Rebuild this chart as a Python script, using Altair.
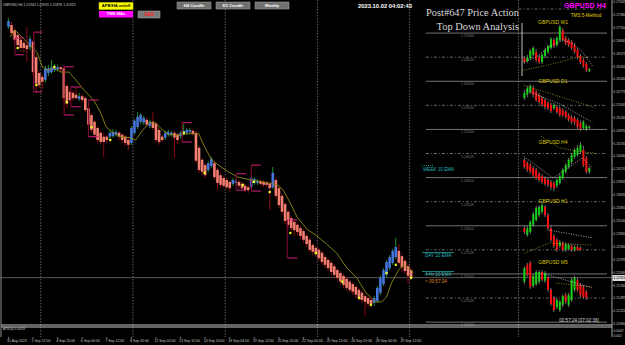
import altair as alt
import pandas as pd

# ---------------- main GBPUSD H4 candles (Heikin-Ashi bodies) ----------------
HA_OPEN = [1.2713,1.2717,1.2706,1.2696,1.2686,1.2680,1.2675,1.2671,1.2682,1.2650,
           1.2617,1.2609,1.2603,1.2617,1.2619,1.2623,1.2625,1.2629,1.2627,1.2590,
           1.2578,1.2576,1.2572,1.2563,1.2569,1.2565,1.2544,1.2530,1.2516,1.2503,
           1.2493,1.2485,1.2485,1.2485,1.2486,1.2489,1.2493,1.2489,1.2485,1.2478,
           1.2472,1.2493,1.2505,1.2516,1.2514,1.2520,1.2507,1.2516,1.2512,1.2499,
           1.2485,1.2483,1.2489,1.2489,1.2493,1.2489,1.2486,1.2491,1.2493,1.2495,
           1.2497,1.2493,1.2462,1.2437,1.2426,1.2416,1.2424,1.2430,1.2416,1.2405,
           1.2399,1.2395,1.2391,1.2387,1.2389,1.2391,1.2387,1.2383,1.2380,1.2380,
           1.2389,1.2389,1.2393,1.2391,1.2389,1.2387,1.2380,1.2395,1.2378,1.2362,
           1.2345,1.2329,1.2316,1.2308,1.2302,1.2295,1.2289,1.2279,1.2271,1.2260,
           1.2254,1.2250,1.2244,1.2235,1.2229,1.2223,1.2216,1.2208,1.2202,1.2196,
           1.2190,1.2184,1.2179,1.2173,1.2167,1.2161,1.2154,1.2150,1.2146,1.2140,
           1.2144,1.2161,1.2179,1.2198,1.2212,1.2223,1.2235,1.2248,1.2237,1.2227,
           1.2216,1.2208]
HA_CLOSE = [1.2725,1.2700,1.2686,1.2675,1.2669,1.2669,1.2667,1.2688,1.2619,1.2595,
            1.2592,1.2599,1.2627,1.2627,1.2629,1.2631,1.2629,1.2625,1.2565,1.2553,
            1.2561,1.2565,1.2565,1.2569,1.2561,1.2540,1.2510,1.2499,1.2489,1.2478,
            1.2474,1.2474,1.2478,1.2493,1.2495,1.2495,1.2485,1.2478,1.2472,1.2468,
            1.2503,1.2518,1.2526,1.2530,1.2524,1.2510,1.2516,1.2503,1.2478,1.2474,
            1.2478,1.2493,1.2495,1.2493,1.2483,1.2478,1.2493,1.2497,1.2499,1.2499,
            1.2491,1.2435,1.2416,1.2412,1.2405,1.2430,1.2439,1.2401,1.2389,1.2385,
            1.2383,1.2380,1.2378,1.2395,1.2393,1.2383,1.2378,1.2374,1.2374,1.2399,
            1.2397,1.2393,1.2387,1.2385,1.2385,1.2378,1.2410,1.2362,1.2343,1.2329,
            1.2310,1.2302,1.2295,1.2291,1.2287,1.2279,1.2271,1.2262,1.2250,1.2246,
            1.2242,1.2233,1.2225,1.2219,1.2212,1.2204,1.2198,1.2192,1.2184,1.2177,
            1.2171,1.2167,1.2163,1.2157,1.2150,1.2146,1.2142,1.2138,1.2138,1.2150,
            1.2171,1.2192,1.2208,1.2225,1.2235,1.2248,1.2256,1.2223,1.2214,1.2206,
            1.2196,1.2192]
HA_HIGH = [1.2731,1.2723,1.2711,1.2702,1.2690,1.2684,1.2713,1.2694,1.2686,1.2655,
           1.2621,1.2615,1.2632,1.2634,1.2644,1.2636,1.2634,1.2632,1.2632,1.2594,
           1.2582,1.2580,1.2586,1.2576,1.2574,1.2569,1.2549,1.2534,1.2520,1.2507,
           1.2497,1.2493,1.2489,1.2497,1.2501,1.2499,1.2497,1.2493,1.2489,1.2483,
           1.2507,1.2522,1.2536,1.2534,1.2528,1.2524,1.2520,1.2536,1.2516,1.2503,
           1.2489,1.2497,1.2499,1.2497,1.2497,1.2493,1.2497,1.2511,1.2503,1.2503,
           1.2501,1.2497,1.2466,1.2441,1.2430,1.2434,1.2443,1.2434,1.2420,1.2410,
           1.2403,1.2399,1.2395,1.2399,1.2397,1.2395,1.2391,1.2387,1.2385,1.2403,
           1.2401,1.2397,1.2397,1.2395,1.2393,1.2391,1.2422,1.2399,1.2383,1.2366,
           1.2349,1.2333,1.2320,1.2312,1.2306,1.2300,1.2293,1.2283,1.2275,1.2264,
           1.2258,1.2254,1.2248,1.2239,1.2233,1.2227,1.2221,1.2212,1.2206,1.2200,
           1.2194,1.2188,1.2183,1.2177,1.2171,1.2165,1.2158,1.2154,1.2150,1.2154,
           1.2175,1.2196,1.2212,1.2229,1.2239,1.2252,1.2275,1.2262,1.2241,1.2231,
           1.2221,1.2212]
HA_LOW = [1.2709,1.2696,1.2680,1.2669,1.2661,1.2659,1.2640,1.2665,1.2611,1.2576,
          1.2586,1.2582,1.2597,1.2611,1.2615,1.2619,1.2621,1.2619,1.2557,1.2544,
          1.2555,1.2559,1.2561,1.2559,1.2555,1.2536,1.2505,1.2493,1.2483,1.2472,
          1.2468,1.2443,1.2472,1.2480,1.2483,1.2485,1.2478,1.2472,1.2466,1.2457,
          1.2468,1.2489,1.2501,1.2511,1.2509,1.2505,1.2503,1.2499,1.2472,1.2468,
          1.2474,1.2478,1.2485,1.2485,1.2441,1.2470,1.2481,1.2487,1.2489,1.2491,
          1.2487,1.2430,1.2410,1.2405,1.2399,1.2412,1.2420,1.2395,1.2374,1.2380,
          1.2378,1.2376,1.2370,1.2383,1.2385,1.2378,1.2374,1.2370,1.2368,1.2376,
          1.2385,1.2385,1.2383,1.2380,1.2380,1.2333,1.2376,1.2356,1.2337,1.2322,
          1.2304,1.2295,1.2289,1.2279,1.2281,1.2273,1.2264,1.2256,1.2244,1.2239,
          1.2235,1.2227,1.2219,1.2212,1.2206,1.2198,1.2190,1.2186,1.2177,1.2171,
          1.2165,1.2161,1.2156,1.2150,1.2144,1.2140,1.2113,1.2131,1.2129,1.2134,
          1.2140,1.2156,1.2175,1.2194,1.2208,1.2219,1.2231,1.2219,1.2204,1.2200,
          1.2181,1.2188]

# 10 EMA on H4 (bar position, price)
EMA_BAR = [0.5,2.1,5.3,7.5,9.4,11.0,12.6,14.9,17.1,19.7,21.9,24.5,27.7,29.9,31.8,34.1,
           36.3,39.5,41.4,43.7,45.9,47.8,50.1,52.3,55.5,58.7,61.9,63.8,66.1,68.3,71.5,
           74.7,78.9,83.0,87.5,89.4,91.7,93.9,97.1,100.3,103.5,106.7,109.9,113.3,116.3,
           119.5,121.4,123.0,124.6,126.9,128.5,130.0,131.7]
EMA_VAL = [1.2692,1.2706,1.2686,1.2671,1.2659,1.2630,1.2623,1.2627,1.2619,1.2619,1.2603,
           1.2582,1.2561,1.2536,1.2505,1.2493,1.2485,1.2483,1.2478,1.2499,1.2514,1.2514,
           1.2499,1.2489,1.2489,1.2491,1.2491,1.2464,1.2437,1.2426,1.2412,1.2401,1.2395,
           1.2391,1.2385,1.2374,1.2347,1.2318,1.2293,1.2279,1.2262,1.2244,1.2214,1.2192,
           1.2161,1.2142,1.2142,1.2152,1.2181,1.2208,1.2219,1.2214,1.2202]

# S&R brackets: start bar, end bar, upper price, lower price
SR_START = [2.1, 8.2, 18.1, 20.3, 26.0, 56.5, 74.1, 79.0, 90.7]
SR_END = [5.0, 11.0, 21.3, 23.5, 29.3, 59.7, 77.3, 82.1, 93.9]
SR_UP = [1.2690, 1.2702, 1.2630, 1.2588, 1.2561, 1.2514, 1.2408, 1.2426, 1.2312]
SR_DN = [1.2655, 1.2578, 1.2530, 1.2547, 1.2485, 1.2474, 1.2374, 1.2372, 1.2233]

# signal dots
DOT_BAR = [3.0,9.1,14.9,19.0,27.0,33.1,57.1,63.8,76.3,79.8,85.0,91.7,100.0,108.6,114.1,117.9,123.0,126.0,131.0]
DOT_VAL = [1.2669,1.2592,1.2630,1.2557,1.2505,1.2478,1.2493,1.2410,1.2385,1.2391,1.2370,
           1.2285,1.2243,1.2184,1.2150,1.2136,1.2202,1.2219,1.2192]

X_LABELS = ["31 Aug 2023", "1 Sep 12:00", "4 Sep 20:00", "6 Sep 04:00", "7 Sep 12:00",
            "8 Sep 20:00", "12 Sep 04:00", "13 Sep 12:00", "14 Sep 20:00", "18 Sep 04:00",
            "19 Sep 12:00", "20 Sep 20:00", "22 Sep 04:00", "25 Sep 12:00", "26 Sep 20:00",
            "28 Sep 04:00", "29 Sep 12:00"]
X_LABEL_BARS = list(range(0, 129, 8))
Y_TICKS = [1.27645,1.27380,1.27110,1.26840,1.26575,1.26305,1.26040,1.25775,1.25505,
           1.25240,1.24970,1.24705,1.24440,1.24170,1.23905,1.23635,1.23365,1.23100,
           1.22830,1.22560,1.22295,1.22030,1.21760,1.21495,1.21225,1.20960]
ATR_TEXT = ["0.0047", "0.002"]
BID = 1.21923
WEEK_GRID = [10.5, 40.5, 70.5, 100.5, 130.5, 165.9]
LEVEL_SOLID = [1.27, 1.26, 1.25, 1.24, 1.23, 1.22, 1.21]
LEVEL_DASH = [1.265, 1.255, 1.245, 1.235, 1.225, 1.215]

# ---------------- top-down inset panels ----------------
W1_O = [1.2648,1.2642,1.2648,1.2655,1.2661,1.2650,1.2640,1.2652,1.2661,1.2669,1.2686,1.2675,1.2686,1.2706,1.2690,1.2686,1.2682,1.2675,1.2665,1.2652,1.2644,1.2636,1.2621]
W1_C = [1.2640,1.2650,1.2663,1.2669,1.2644,1.2640,1.2655,1.2665,1.2673,1.2688,1.2673,1.2690,1.2713,1.2686,1.2679,1.2675,1.2669,1.2661,1.2650,1.2640,1.2632,1.2623,1.2625]
W1_H = [1.2652,1.2655,1.2667,1.2673,1.2667,1.2655,1.2659,1.2669,1.2677,1.2692,1.2690,1.2694,1.2717,1.2711,1.2694,1.2690,1.2686,1.2679,1.2669,1.2657,1.2648,1.2640,1.2628]
W1_L = [1.2636,1.2638,1.2644,1.2652,1.2640,1.2636,1.2636,1.2648,1.2657,1.2665,1.2669,1.2671,1.2682,1.2682,1.2675,1.2671,1.2665,1.2657,1.2646,1.2636,1.2628,1.2619,1.2619]
D1_O = [1.2565,1.2572,1.2578,1.2586,1.2578,1.2572,1.2565,1.2561,1.2555,1.2551,1.2544,1.2547,1.2544,1.2540,1.2536,1.2530,1.2526,1.2524,1.2520,1.2514,1.2503,1.2501,1.2503]
D1_C = [1.2576,1.2586,1.2590,1.2572,1.2561,1.2557,1.2551,1.2547,1.2544,1.2538,1.2551,1.2536,1.2530,1.2530,1.2526,1.2520,1.2516,1.2514,1.2505,1.2501,1.2516,1.2507,1.2505]
D1_H = [1.2580,1.2590,1.2594,1.2592,1.2582,1.2576,1.2569,1.2565,1.2559,1.2555,1.2555,1.2551,1.2549,1.2544,1.2540,1.2534,1.2530,1.2528,1.2524,1.2518,1.2520,1.2511,1.2509]
D1_L = [1.2561,1.2567,1.2574,1.2567,1.2557,1.2553,1.2547,1.2542,1.2540,1.2534,1.2540,1.2532,1.2526,1.2526,1.2522,1.2516,1.2511,1.2509,1.2501,1.2497,1.2499,1.2497,1.2501]
H4_O = [1.2437,1.2430,1.2426,1.2420,1.2416,1.2408,1.2403,1.2399,1.2395,1.2391,1.2389,1.2383,1.2389,1.2399,1.2412,1.2422,1.2432,1.2443,1.2447,1.2453,1.2457,1.2441,1.2412]
H4_C = [1.2422,1.2416,1.2412,1.2405,1.2399,1.2395,1.2391,1.2387,1.2385,1.2380,1.2378,1.2395,1.2403,1.2416,1.2426,1.2437,1.2447,1.2457,1.2462,1.2468,1.2426,1.2412,1.2420]
H4_H = [1.2441,1.2434,1.2430,1.2424,1.2420,1.2412,1.2408,1.2403,1.2399,1.2395,1.2393,1.2399,1.2408,1.2420,1.2430,1.2441,1.2451,1.2462,1.2468,1.2474,1.2466,1.2445,1.2424]
H4_L = [1.2418,1.2412,1.2408,1.2401,1.2395,1.2391,1.2387,1.2383,1.2380,1.2374,1.2372,1.2378,1.2385,1.2395,1.2408,1.2418,1.2428,1.2439,1.2443,1.2449,1.2422,1.2408,1.2408]
H1_O = [1.2295,1.2281,1.2287,1.2302,1.2312,1.2322,1.2329,1.2339,1.2322,1.2295,1.2279,1.2271,1.2258,1.2264,1.2250,1.2252,1.2258,1.2250,1.2256,1.2254]
H1_C = [1.2287,1.2295,1.2308,1.2324,1.2337,1.2339,1.2343,1.2322,1.2295,1.2271,1.2258,1.2250,1.2266,1.2250,1.2262,1.2260,1.2250,1.2256,1.2250,1.2250]
H1_H = [1.2300,1.2300,1.2312,1.2329,1.2341,1.2343,1.2349,1.2343,1.2327,1.2300,1.2283,1.2275,1.2271,1.2268,1.2266,1.2264,1.2262,1.2260,1.2260,1.2258]
H1_L = [1.2283,1.2277,1.2283,1.2298,1.2308,1.2318,1.2324,1.2318,1.2291,1.2266,1.2254,1.2246,1.2254,1.2246,1.2246,1.2248,1.2246,1.2246,1.2248,1.2248]
M5_O = [1.2184,1.2219,1.2223,1.2175,1.2179,1.2184,1.2204,1.2186,1.2192,1.2167,1.2150,1.2131,1.2125,1.2136,1.2156,1.2136,1.2146,1.2167,1.2188,1.2177,1.2173,1.2163]
M5_C = [1.2212,1.2198,1.2173,1.2196,1.2204,1.2204,1.2188,1.2202,1.2167,1.2138,1.2125,1.2146,1.2142,1.2154,1.2142,1.2156,1.2188,1.2192,1.2167,1.2156,1.2152,1.2150]
M5_H = [1.2216,1.2223,1.2227,1.2200,1.2208,1.2208,1.2208,1.2206,1.2196,1.2171,1.2154,1.2150,1.2146,1.2158,1.2161,1.2161,1.2192,1.2196,1.2192,1.2181,1.2177,1.2167]
M5_L = [1.2179,1.2194,1.2169,1.2171,1.2175,1.2179,1.2184,1.2181,1.2163,1.2134,1.2121,1.2127,1.2121,1.2131,1.2138,1.2131,1.2142,1.2163,1.2163,1.2152,1.2148,1.2146]

# inset dotted averages: (group, candle position, price)
AVG_GROUP = ["W1y"]*4 + ["W1w"]*7 + ["D1y"]*2 + ["D1w"]*3 + ["H4y"]*4 + ["H4w"]*4 + ["H1y"]*3 + ["H1w"]*2 + ["M5w"]*2 + ["M5y"]*2
AVG_K = [-0.3,8.3,18.3,21.7, -0.3,4,8.3,13,16.3,19.7,23.3, -0.3,24, 0,12,23, 5.7,11.7,19.7,24, 0,9.7,19.7,23, 0,8.3,23, 8.3,23, 5.7,23, 10.7,23]
AVG_VAL = [1.2623,1.2634,1.2650,1.2650, 1.2640,1.2650,1.2671,1.2686,1.2679,1.2661,1.2630,
           1.2592,1.2545, 1.2582,1.2553,1.2515, 1.2486,1.2462,1.2453,1.2451,
           1.2443,1.2399,1.2441,1.2420, 1.2243,1.2264,1.2260, 1.2291,1.2275,
           1.2202,1.2171, 1.2181,1.2173]

# ---------------- layout ----------------
INSET_X0 = 167.84
INSET_STEP = 0.96
W, H = 625, 345
PLOT_R, PLOT_B = 612, 337
xs = alt.Scale(domain=[-0.8, 194.72], range=[1, PLOT_R], nice=False, zero=False)
ys = alt.Scale(domain=[1.20691, 1.27687], range=[PLOT_B, 0], nice=False, zero=False)
FONT = "Liberation Sans"


def X(f):
    return alt.X(f, type="quantitative", scale=xs, axis=None)


def Y(f):
    return alt.Y(f, type="quantitative", scale=ys, axis=None)


UP_MAIN, DN_MAIN = "#4476dc", "#f47e70"
is_up = "datum.c >= datum.o"

main = pd.DataFrame({"i": range(len(HA_OPEN)), "o": HA_OPEN, "c": HA_CLOSE, "h": HA_HIGH, "l": HA_LOW})
ema = pd.DataFrame({"i": EMA_BAR, "v": EMA_VAL})
sr = pd.DataFrame({"a": SR_START, "b": SR_END, "u": SR_UP, "d": SR_DN})
dots = pd.DataFrame({"i": DOT_BAR, "v": DOT_VAL})

rows = []
for name, O, C, Hh, L in [("W1", W1_O, W1_C, W1_H, W1_L), ("D1", D1_O, D1_C, D1_H, D1_L),
                          ("H4", H4_O, H4_C, H4_H, H4_L), ("H1", H1_O, H1_C, H1_H, H1_L),
                          ("M5", M5_O, M5_C, M5_H, M5_L)]:
    for k in range(len(O)):
        rows.append({"p": name, "x": INSET_X0 + k * INSET_STEP, "o": O[k], "c": C[k], "h": Hh[k], "l": L[k]})
ins = pd.DataFrame(rows)
avg = pd.DataFrame({"g": AVG_GROUP, "x": [INSET_X0 + k * INSET_STEP for k in AVG_K], "v": AVG_VAL})
avg_y = avg[avg["g"].str.endswith("y")]
avg_w = avg[avg["g"].str.endswith("w")]

levels_s = pd.DataFrame({"v": LEVEL_SOLID, "a": 135.8, "b": 194.72})
levels_d = pd.DataFrame({"v": LEVEL_DASH + [1.275], "a": [135.8] * len(LEVEL_DASH) + [165.9], "b": 194.72})
levels_lab = pd.DataFrame({"v": LEVEL_SOLID + LEVEL_DASH,
                           "t": [f"{v:.5f}" for v in LEVEL_SOLID + LEVEL_DASH], "x": 149.3})
grid = pd.DataFrame({"i": WEEK_GRID})
xlab = pd.DataFrame({"i": X_LABEL_BARS, "t": X_LABELS})
ylab = pd.DataFrame({"v": Y_TICKS, "t": [f"{v:.5f}" for v in Y_TICKS]})

layers = []
one = pd.DataFrame({"a": [0]})


def vrule(x, y0, y1, color, width=1, dash=None):
    kw = {"color": color, "strokeWidth": width}
    if dash:
        kw["strokeDash"] = dash
    return alt.Chart(one).mark_rule(**kw).encode(x=alt.value(x), y=alt.value(y0), y2=alt.value(y1))


def hrule(y, x0, x1, color, width=1, dash=None):
    kw = {"color": color, "strokeWidth": width}
    if dash:
        kw["strokeDash"] = dash
    return alt.Chart(one).mark_rule(**kw).encode(y=alt.value(y), x=alt.value(x0), x2=alt.value(x1))


def rect(x0, x1, y0, y1, fill, stroke=None):
    kw = {"fill": fill}
    if stroke:
        kw["stroke"] = stroke
        kw["strokeWidth"] = 0.6
    return (alt.Chart(one).mark_rect(**kw)
            .encode(x=alt.value(x0), x2=alt.value(x1), y=alt.value(y0), y2=alt.value(y1)))


def txt(t, x, y, color, size, weight="normal", align="left", font=FONT):
    return (alt.Chart(pd.DataFrame({"t": [t]}))
            .mark_text(color=color, fontSize=size, fontWeight=weight, align=align, baseline="middle", font=font)
            .encode(x=alt.value(x), y=alt.value(y), text="t:N"))


# week grid (dotted verticals)
layers.append(alt.Chart(grid).mark_rule(color="#7a7a7a", strokeDash=[1.5, 1.5], strokeWidth=0.8)
              .encode(x=X("i:Q"), y=alt.value(0), y2=alt.value(PLOT_B)))
# right-hand price grid
layers.append(alt.Chart(levels_s).mark_rule(color="#909090", strokeWidth=0.8)
              .encode(x=X("a:Q"), x2="b:Q", y=Y("v:Q")))
layers.append(alt.Chart(levels_d).mark_rule(color="#808080", strokeWidth=0.8, strokeDash=[3, 2, 1, 2])
              .encode(x=X("a:Q"), x2="b:Q", y=Y("v:Q")))
layers.append(alt.Chart(levels_lab).mark_text(color="#7c7c7c", fontSize=3.6, font=FONT, dy=3)
              .encode(x=X("x:Q"), y=Y("v:Q"), text="t:N"))
# bid line
layers.append(alt.Chart(pd.DataFrame({"v": [BID]})).mark_rule(color="#6e6e6e", strokeWidth=0.8)
              .encode(y=Y("v:Q"), x=alt.value(1), x2=alt.value(PLOT_R)))

# main candles
layers.append(alt.Chart(main).mark_rule(strokeWidth=1)
              .encode(x=X("i:Q"), y=Y("h:Q"), y2="l:Q",
                      color=alt.condition(is_up, alt.value("#1f8f2a"), alt.value("#8b0a10"))))
layers.append(alt.Chart(main).mark_bar(width=2.6)
              .encode(x=X("i:Q"), y=Y("o:Q"), y2="c:Q",
                      color=alt.condition(is_up, alt.value(UP_MAIN), alt.value(DN_MAIN))))
# EMA
layers.append(alt.Chart(ema).mark_line(color="#8e8a14", strokeWidth=0.9)
              .encode(x=X("i:Q"), y=Y("v:Q")))
# S&R brackets
layers.append(alt.Chart(sr).mark_rule(color="#d81f80", strokeWidth=1)
              .encode(x=X("a:Q"), x2="b:Q", y=Y("u:Q")))
layers.append(alt.Chart(sr).mark_rule(color="#d81f80", strokeWidth=1)
              .encode(x=X("a:Q"), x2="b:Q", y=Y("d:Q")))
layers.append(alt.Chart(sr).mark_rule(color="#8b0a30", strokeWidth=1)
              .encode(x=X("a:Q"), y=Y("u:Q"), y2="d:Q"))
# dots
layers.append(alt.Chart(dots).mark_square(color="#e8ff20", size=5, opacity=1)
              .encode(x=X("i:Q"), y=Y("v:Q")))

# insets
layers.append(alt.Chart(ins).mark_rule(color="#a0a0a0", strokeWidth=0.7)
              .encode(x=X("x:Q"), y=Y("h:Q"), y2="l:Q"))
layers.append(alt.Chart(ins).mark_bar(width=2)
              .encode(x=X("x:Q"), y=Y("o:Q"), y2="c:Q",
                      color=alt.condition(is_up, alt.value("#18d018"), alt.value("#ff1010"))))
layers.append(alt.Chart(avg_y).mark_line(color="#b0a020", strokeWidth=0.8, strokeDash=[1, 1.5])
              .encode(x=X("x:Q"), y=Y("v:Q"), detail="g:N"))
layers.append(alt.Chart(avg_w).mark_line(color="#d0d0d0", strokeWidth=0.8, strokeDash=[1, 1.5])
              .encode(x=X("x:Q"), y=Y("v:Q"), detail="g:N"))

# window separators, frame, axes
layers += [
    hrule(325, 1, PLOT_R, "#c8c8c8"), hrule(327, 1, PLOT_R, "#c8c8c8"),
    vrule(1, 0, PLOT_B, "#909090"), vrule(PLOT_R, 0, PLOT_B, "#a0a0a0"),
    vrule(522, 23, 76, "#c0c0c0"),
]
layers.append(alt.Chart(xlab).mark_rule(color="#909090", strokeWidth=0.8)
              .encode(x=X("i:Q"), y=alt.value(PLOT_B), y2=alt.value(PLOT_B + 2)))
layers.append(alt.Chart(xlab).mark_text(color="#c8c8c8", fontSize=3.5, font=FONT, align="left",
                                        baseline="middle", dx=-1.5)
              .encode(x=X("i:Q"), y=alt.value(341), text="t:N"))
layers.append(alt.Chart(ylab).mark_rule(color="#909090", strokeWidth=0.8)
              .encode(y=Y("v:Q"), x=alt.value(PLOT_R), x2=alt.value(PLOT_R + 1.5)))
layers.append(alt.Chart(ylab).mark_text(color="#c8c8c8", fontSize=3.3, font=FONT, align="left",
                                        baseline="middle")
              .encode(y=Y("v:Q"), x=alt.value(613.5), text="t:N"))
layers += [txt(ATR_TEXT[0], 613.5, 330.5, "#c8c8c8", 3.3), txt(ATR_TEXT[1], 613.5, 335.5, "#c8c8c8", 3.3)]

# buttons
layers += [
    rect(99, 133, 2.5, 9.5, "#ffff00", "#c0c000"), txt("APB/HA on/off", 116, 6, "#000000", 4.2, "bold", "center"),
    rect(99, 133, 11, 17.5, "#ff00ff"), txt("TMS MAs", 116, 14.3, "#ffffff", 4.2, "bold", "center"),
    rect(138, 160, 11, 18, "#7a7a7a", "#a0a0a0"), txt("S&R", 149, 14.5, "#ff2020", 4.5, "bold", "center"),
    rect(177, 211, 2, 9, "#707070", "#9a9a9a"), txt("H4 Candle", 194, 5.6, "#ffffff", 4.2, "bold", "center"),
    rect(216, 250, 2, 9, "#707070", "#9a9a9a"), txt("D1 Candle", 233, 5.6, "#ffffff", 4.2, "bold", "center"),
    rect(255, 289, 2, 9, "#707070", "#9a9a9a"), txt("Weekly", 272, 5.6, "#ffffff", 4.2, "bold", "center"),
]
# texts
layers += [
    txt("GBPUSD,H4  1.21902 1.21955 1.21876 1.21923", 3, 4.5, "#d0d0d0", 3.4),
    txt("2023.10.02 04:02:43", 385, 5.8, "#ffffff", 5.8, "bold", "center"),
    txt("Post#647 Price Action", 519, 12.5, "#d8d8d8", 10.4, "normal", "right", "Liberation Serif"),
    txt("Top Down Analysis", 519, 26.5, "#d8d8d8", 10.4, "normal", "right", "Liberation Serif"),
    txt("GBPUSD H4", 585, 6, "#ff00ff", 7.2, "bold", "center"),
    txt("TMS 5-Method", 586, 15.5, "#e6d200", 4.6, "normal", "center"),
    txt("GBPUSD W1", 553, 21.5, "#d8c800", 5.0, "normal", "center"),
    txt("GBPUSD D1", 553, 81, "#d8c800", 5.0, "normal", "center"),
    txt("GBPUSD H4", 553, 141.5, "#d8c800", 5.0, "normal", "center"),
    txt("GBPUSD H1", 553, 201, "#d8c800", 5.0, "normal", "center"),
    txt("GBPUSD M5", 553, 261.5, "#d8c800", 5.0, "normal", "center"),
    txt("WEEK 10 EMA", 423, 169.5, "#20b8b8", 4.6),
    txt("DAY 10 EMA", 425, 255.5, "#20b8b8", 4.6),
    txt("4-Hr 10 EMA", 425, 274.5, "#20b8b8", 4.6),
    txt("< 00:57:24", 425, 281.5, "#e08a20", 4.6),
    txt("00:57:24 [07:02:36]", 579, 321, "#d8d8d8", 4.6, "normal", "center"),
    txt("ATR(4) 0.0053", 3, 329, "#d0d0d0", 3.4),
]
# teal EMA markers
layers += [hrule(165.5, 422, 433, "#20a0a0", 0.8, [1, 1]),
           hrule(252.5, 422, 454, "#20a0a0", 0.8), hrule(271.5, 422, 454, "#20a0a0", 0.8)]
# bid price tag on the axis
layers += [rect(612.5, 625, 275, 281, "#d8d8d8"), txt("1.21923", 613.5, 278, "#000000", 3.3)]

chart = (alt.layer(*layers)
         .properties(width=W, height=H, autosize="none", padding=0)
         .configure(background="#000000")
         .configure_view(stroke=None, fill="#000000"))

chart.save("out.html", embed_options={"renderer": "svg", "actions": False})
